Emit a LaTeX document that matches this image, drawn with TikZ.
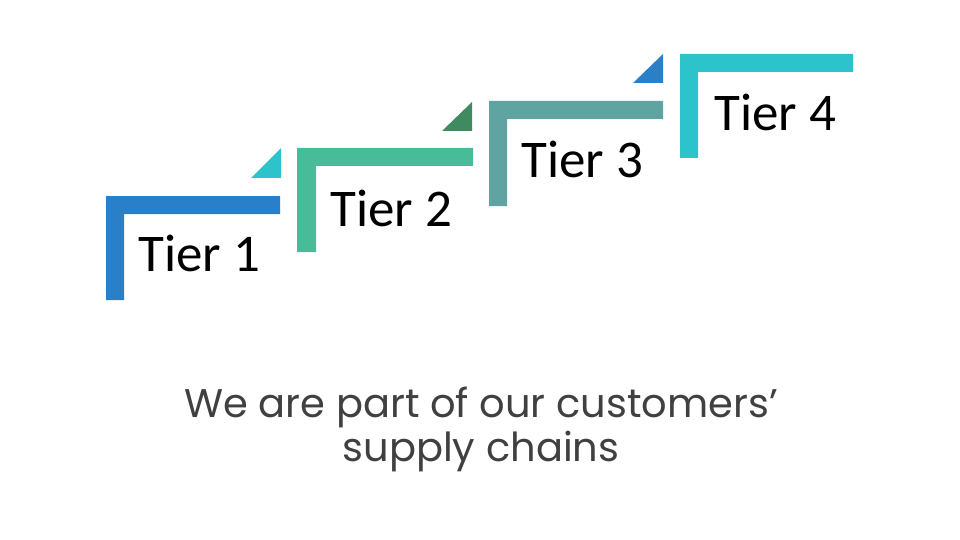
\documentclass[tikz,border=0pt]{standalone}
\usepackage{fontspec}
\setmainfont{Carlito}
\newfontfamily\gothic{Poppins}
\definecolor{cBlue}{HTML}{2A7FC9}
\definecolor{cCyan}{HTML}{2DC3CA}
\definecolor{cGreen}{HTML}{48BC98}
\definecolor{cDark}{HTML}{3F8A5F}
\definecolor{cGrey}{HTML}{5FA4A0}
\definecolor{cText}{HTML}{404040}
\begin{document}
\begin{tikzpicture}[x=1pt,y=-1pt,
  tier/.style={anchor=base west,inner sep=0pt,font=\fontsize{53}{60}\selectfont,text=black},
  caption/.style={align=center,inner sep=0pt,text=cText,font=\gothic\fontsize{40}{44}\selectfont}]
\useasboundingbox (0,0) rectangle (960,540);
% Tier 1
\fill[cBlue] (106,196) -- (280,196) -- (280,214) -- (124,214) -- (124,300) -- (106,300) -- cycle;
\fill[cCyan] (281,148) -- (281,178) -- (251,178) -- cycle;
\node[tier] (t1) at (138,271) {Tier 1};
% Tier 2
\fill[cGreen] (297,148) -- (473,148) -- (473,166) -- (316,166) -- (316,252) -- (297,252) -- cycle;
\fill[cDark] (472,102) -- (472,131) -- (442,131) -- cycle;
\node[tier] (t2) at (330,226) {Tier 2};
% Tier 3
\fill[cGrey] (489,101) -- (663,101) -- (663,119) -- (507,119) -- (507,206) -- (489,206) -- cycle;
\fill[cBlue] (663,54) -- (663,83) -- (633,83) -- cycle;
\node[tier] (t3) at (521,178) {Tier 3};
% Tier 4
\fill[cCyan] (680,54) -- (853,54) -- (853,72) -- (698,72) -- (698,158) -- (680,158) -- cycle;
\node[tier] (t4) at (714,131) {Tier 4};
% caption
\node[caption,anchor=base] (cap1) at (481,417) {We are part of our customers’};
\node[caption,anchor=base] (cap2) at (481,461) {supply chains};
\end{tikzpicture}
\end{document}
